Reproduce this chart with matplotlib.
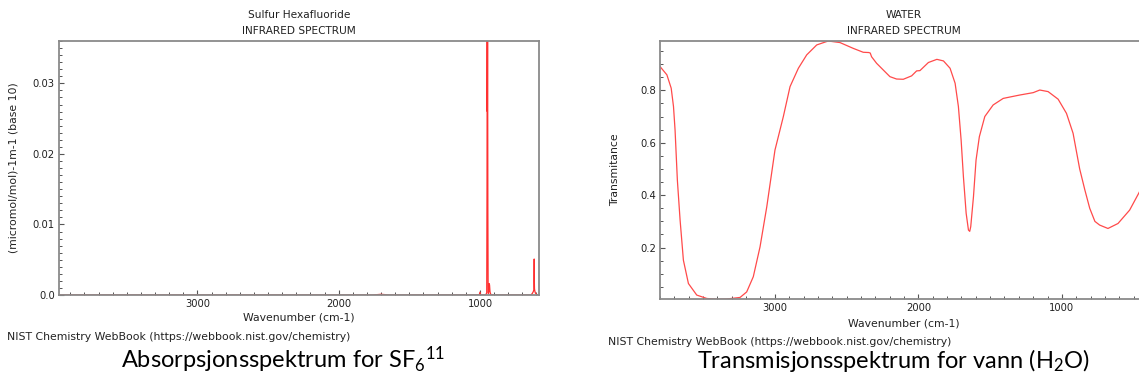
import matplotlib
matplotlib.use("Agg")
import matplotlib.pyplot as plt
from matplotlib.ticker import MultipleLocator, FixedLocator, FixedFormatter

plt.rcParams['mathtext.fontset'] = 'custom'
plt.rcParams['mathtext.rm'] = 'Lato'
plt.rcParams['mathtext.it'] = 'Lato:italic'

# SF6 absorbans (les av bildet)
sf6_wn = [3980, 2000, 1760, 1700, 1640, 1200, 1005, 1000, 995, 990, 960, 952, 950, 948.5, 947.5,
          946, 944, 942, 940, 937, 934, 932, 929, 925, 900, 640, 630, 622, 618, 616, 615,
          614, 612, 608, 600, 590, 582]
sf6_abs = [0.0, 0.0, 0.0, 0.0001, 0.0, 0.0, 0.0, 0.0004, 0.0, 0.0, 0.0, 0.0003, 0.0155, 0.040, 0.026,
           0.040, 0.012, 0.0004, 0.0002, 0.0006, 0.0016, 0.0014, 0.0005, 0.0001, 0.0, 0.0, 0.0002, 0.0005, 0.0008, 0.0051, 0.002,
           0.0009, 0.0006, 0.0003, 0.0001, 0.0, 0.0]

# vann transmittans (les av bildet)
h2o_wn = [3799, 3752, 3722, 3706, 3695, 3679, 3660, 3637, 3602, 3544, 3474, 3400, 3335, 3242,
          3196, 3150, 3103, 3056, 2999, 2941, 2894, 2836, 2778, 2708, 2628, 2546, 2454, 2384,
          2345, 2335, 2326, 2291, 2240, 2198, 2152, 2105, 2047, 2012, 1989, 1930, 1871, 1825,
          1779, 1744, 1721, 1702, 1686, 1667, 1651, 1642, 1635, 1616, 1598, 1575, 1537, 1479,
          1409, 1374, 1293, 1200, 1154, 1096, 1026, 968, 922, 876, 840, 806, 770, 737, 679,
          609, 528, 465, 430]
h2o_t = [0.890, 0.859, 0.808, 0.738, 0.648, 0.457, 0.305, 0.152, 0.063, 0.019, 0.006, 0.003, 0.004, 0.010,
         0.031, 0.089, 0.203, 0.356, 0.572, 0.699, 0.814, 0.884, 0.935, 0.973, 0.988, 0.982, 0.960, 0.945,
         0.944, 0.942, 0.928, 0.903, 0.875, 0.852, 0.843, 0.842, 0.855, 0.874, 0.875, 0.906, 0.918, 0.912,
         0.884, 0.827, 0.738, 0.610, 0.470, 0.331, 0.267, 0.262, 0.280, 0.394, 0.534, 0.623, 0.700, 0.744,
         0.769, 0.773, 0.782, 0.791, 0.801, 0.795, 0.766, 0.712, 0.636, 0.500, 0.420, 0.350, 0.300, 0.286, 0.273,
         0.292, 0.343, 0.407, 0.445]

W, H = 1139, 381
fig = plt.figure(figsize=(W / 100, H / 100), dpi=100)

spine_col = '#8a8a8a'
txt_col = '#222222'
small = 7.2   # tall på aksene
lab = 7.8     # akse-titler og NIST-tekst


def style(ax):
    for s in ax.spines.values():
        s.set_color(spine_col)
        s.set_linewidth(1.3)
    ax.tick_params(which='both', direction='in', top=False, right=False,
                   color='#555555', labelsize=small, labelcolor=txt_col, pad=3)
    ax.tick_params(which='major', length=3.6, width=0.8)
    ax.tick_params(which='minor', length=2.0, width=0.7)
    ax.xaxis.set_major_locator(MultipleLocator(1000))
    ax.xaxis.set_minor_locator(MultipleLocator(100))


# venstre: SF6
ax1 = fig.add_axes([59 / W, 1 - 295 / H, 480 / W, 254 / H])
ax1.plot(sf6_wn, sf6_abs, color='#ff3030', lw=0.9)
ax1.set_xlim(3980, 582)
ax1.set_ylim(0, 0.036)
style(ax1)
ax1.yaxis.set_major_locator(FixedLocator([0, 0.01, 0.02, 0.03]))
ax1.yaxis.set_major_formatter(FixedFormatter(['0.0', '0.01', '0.02', '0.03']))
ax1.yaxis.set_minor_locator(MultipleLocator(0.001))
ax1.set_xlabel('Wavenumber (cm-1)', fontsize=lab, color=txt_col)
ax1.xaxis.set_label_coords(0.5, -(318 - 295) / 254)
ax1.xaxis.label.set_va('center')
ax1.set_ylabel('(micromol/mol)-1m-1 (base 10)', fontsize=lab, color=txt_col)
ax1.yaxis.set_label_coords(-(59 - 14) / 480, 0.5)
ax1.yaxis.label.set_va('center')

# høyre: vann
ax2 = fig.add_axes([660 / W, 1 - 299 / H, 488 / W, 258 / H])
ax2.plot(h2o_wn, h2o_t, color='#ff4a4a', lw=0.9)
ax2.set_xlim(3800, 400)
ax2.set_ylim(0.004, 0.988)
style(ax2)
ax2.yaxis.set_major_locator(FixedLocator([0.2, 0.4, 0.6, 0.8]))
ax2.yaxis.set_major_formatter(FixedFormatter(['0.2', '0.4', '0.6', '0.8']))
ax2.yaxis.set_minor_locator(MultipleLocator(0.05))
ax2.set_xlabel('Wavenumber (cm-1)', fontsize=lab, color=txt_col)
ax2.xaxis.set_label_coords(0.5, -(323 - 299) / 258)
ax2.xaxis.label.set_va('center')
ax2.set_ylabel('Transmitance', fontsize=lab, color=txt_col)
ax2.yaxis.set_label_coords(-(660 - 615) / 488, 0.5)
ax2.yaxis.label.set_va('center')

# titler
fig.text(299 / W, 1 - 15 / H, 'Sulfur Hexafluoride', ha='center', va='center', fontsize=7.6, color=txt_col)
fig.text(299 / W, 1 - 31 / H, 'INFRARED SPECTRUM', ha='center', va='center', fontsize=7.6, color=txt_col)
fig.text(904 / W, 1 - 15 / H, 'WATER', ha='center', va='center', fontsize=7.6, color=txt_col)
fig.text(904 / W, 1 - 31 / H, 'INFRARED SPECTRUM', ha='center', va='center', fontsize=7.6, color=txt_col)

fig.text(7 / W, 1 - 337 / H, 'NIST Chemistry WebBook (https://webbook.nist.gov/chemistry)',
         ha='left', va='center', fontsize=lab, color=txt_col)
fig.text(608 / W, 1 - 342 / H, 'NIST Chemistry WebBook (https://webbook.nist.gov/chemistry)',
         ha='left', va='center', fontsize=lab, color=txt_col)

# bildetekster
fig.text(283 / W, 1 - 360 / H, r'Absorpsjonsspektrum for SF$_\mathrm{6}$$^\mathrm{11}$',
         ha='center', va='center', fontsize=17, family='Lato', color='black')
fig.text(893 / W, 1 - 360 / H, r'Transmisjonsspektrum for vann (H$_\mathrm{2}$O)',
         ha='center', va='center', fontsize=17, family='Lato', color='black')

fig.savefig('out.png', dpi=100)
